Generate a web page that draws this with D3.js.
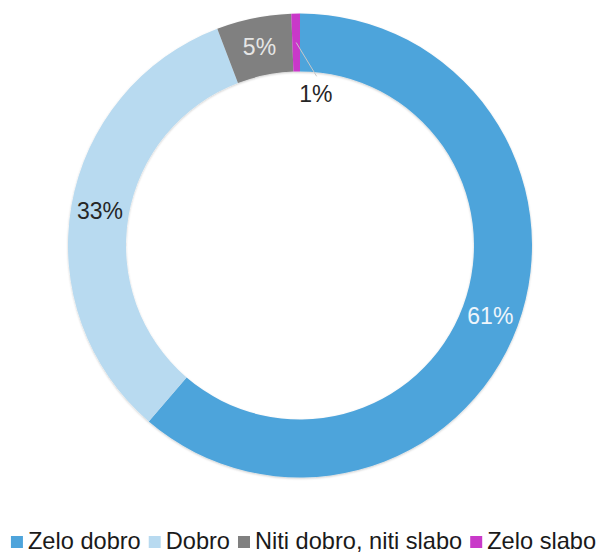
<!DOCTYPE html>
<html>
<head>
<meta charset="utf-8">
<script src="https://cdn.jsdelivr.net/npm/d3@7"></script>
<style>
  body { margin: 0; background: #fff; }
  svg text { font-family: "Liberation Sans", Arial, sans-serif; }
</style>
</head>
<body>
<div id="chart"></div>
<script>
// chart size
var width = 602;
var height = 553;

// data
var categories = ["Zelo dobro", "Dobro", "Niti dobro, niti slabo", "Zelo slabo"];
var values = [61.3, 32.9, 5.2, 0.6];
var valueLabels = ["61%", "33%", "5%", "1%"];

var colors = ["#4ea4db", "#b8daf0", "#808080", "#c939c9"];
var labelColors = ["#eef5fb", "#262626", "#e6e6e6", "#262626"];

// donut geometry
var cx = 300, cy = 245.5;
var outerR = 232, innerR = 174;
var fontSize = 23;
var legendFont = 23.6;

var svg = d3.select("#chart")
  .append("svg")
  .attr("width", width)
  .attr("height", height);

// soft shadow on the ring edge
var defs = svg.append("defs");
defs.append("filter")
  .attr("id", "shadow")
  .attr("x", "-10%").attr("y", "-10%")
  .attr("width", "120%").attr("height", "120%")
  .append("feDropShadow")
  .attr("dx", 0).attr("dy", 1)
  .attr("stdDeviation", 1)
  .attr("flood-color", "#000")
  .attr("flood-opacity", 0.2);

var data = categories.map(function(c, i) {
  return {name: c, value: values[i], label: valueLabels[i], color: colors[i], labelColor: labelColors[i]};
});

var pie = d3.pie()
  .sort(null)
  .value(function(d) { return d.value; });

var arc = d3.arc()
  .innerRadius(innerR)
  .outerRadius(outerR);

var labelArc = d3.arc()
  .innerRadius((innerR + outerR) / 2)
  .outerRadius((innerR + outerR) / 2);

var arcs = pie(data);

var g = svg.append("g")
  .attr("transform", "translate(" + cx + "," + cy + ")");

g.append("g")
  .attr("filter", "url(#shadow)")
  .selectAll("path")
  .data(arcs)
  .enter()
  .append("path")
  .attr("d", arc)
  .attr("fill", function(d) { return d.data.color; });

// polar helper (angle measured clockwise from top, like d3.arc)
function polar(r, a) {
  return [r * Math.sin(a), -r * Math.cos(a)];
}

// tiny slices get their label pulled inside the ring with a leader line
var small = function(d) { return d.data.value < 2; };
var leaderShift = 6.7 * Math.PI / 180;
var labelShift = 7.1 * Math.PI / 180;

g.selectAll("line.leader")
  .data(arcs.filter(small))
  .enter()
  .append("line")
  .attr("class", "leader")
  .attr("x1", function(d) { return labelArc.centroid(d)[0]; })
  .attr("y1", function(d) { return labelArc.centroid(d)[1]; })
  .attr("x2", function(d) { return polar(170, (d.startAngle + d.endAngle) / 2 + leaderShift - 2 * Math.PI)[0]; })
  .attr("y2", function(d) { return polar(170, (d.startAngle + d.endAngle) / 2 + leaderShift - 2 * Math.PI)[1]; })
  .attr("stroke", "#c8c8c8")
  .attr("stroke-width", 1);

g.selectAll("text.value")
  .data(arcs)
  .enter()
  .append("text")
  .attr("class", "value")
  .text(function(d) { return d.data.label; })
  .attr("text-anchor", "middle")
  .attr("dominant-baseline", "central")
  .attr("font-size", fontSize)
  .attr("fill", function(d) { return d.data.labelColor; })
  .attr("transform", function(d) {
    var p = small(d)
      ? polar(152, (d.startAngle + d.endAngle) / 2 + labelShift - 2 * Math.PI)
      : labelArc.centroid(d);
    return "translate(" + p[0] + "," + p[1] + ")";
  });

// legend, laid out left to right and centred
var legendY = 549;
var box = 12;
var boxGap = 5;
var itemGap = 8;

var legend = svg.append("g");
var x = 0;
data.forEach(function(d) {
  var item = legend.append("g").attr("transform", "translate(" + x + ",0)");
  item.append("rect")
    .attr("x", 0)
    .attr("y", legendY - box - 1)
    .attr("width", box)
    .attr("height", box)
    .attr("fill", d.color);
  var t = item.append("text")
    .text(d.name)
    .attr("x", box + boxGap)
    .attr("y", legendY)
    .attr("font-size", legendFont)
    .attr("fill", "#1a1a1a");
  x += box + boxGap + t.node().getComputedTextLength() + itemGap;
});
var legendW = x - itemGap;
legend.attr("transform", "translate(" + (303.5 - legendW / 2) + ",0)");
</script>
</body>
</html>
